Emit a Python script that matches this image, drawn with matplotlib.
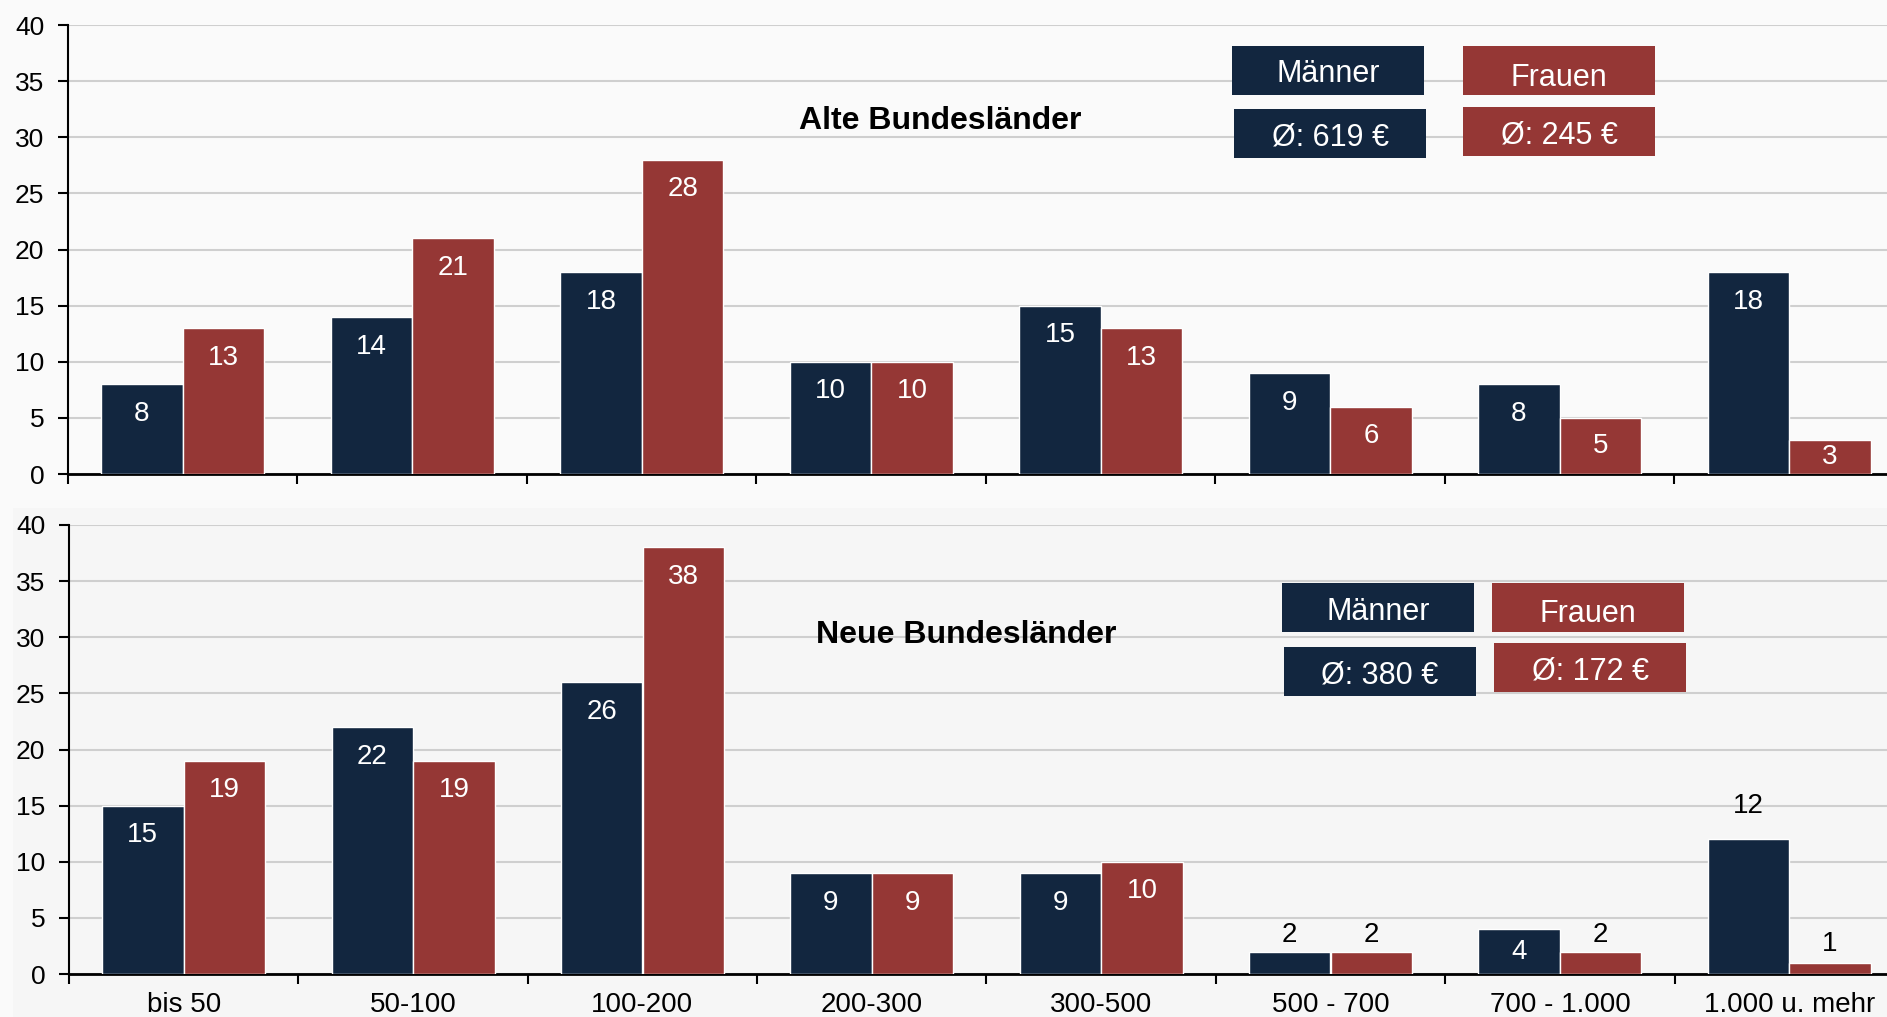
import numpy as np
import matplotlib.pyplot as plt
from matplotlib.patches import Rectangle

plt.rcParams['font.family'] = ['Liberation Sans', 'DejaVu Sans']

categories = ['bis 50', '50-100', '100-200', '200-300', '300-500',
              '500 - 700', '700 - 1.000', '1.000 u. mehr']

alt_maenner = [8, 14, 18, 10, 15, 9, 8, 18]
alt_frauen = [13, 21, 28, 10, 13, 6, 5, 3]
neu_maenner = [15, 22, 26, 9, 9, 2, 4, 12]
neu_frauen = [19, 19, 38, 9, 10, 2, 2, 1]

titles = ['Alte Bundesländer', 'Neue Bundesländer']
avg_maenner = ['Ø: 619 €', 'Ø: 380 €']
avg_frauen = ['Ø: 245 €', 'Ø: 172 €']

NAVY = '#12263f'
RED = '#953735'
W, H = 1887, 1017

fig = plt.figure(figsize=(W / 100, H / 100), dpi=100, facecolor='#fafafa')
# slightly darker backdrop of the lower chart
fig.add_artist(Rectangle((13 / W, 0), 1, 1 - 508 / H, transform=fig.transFigure,
                         facecolor='#f6f6f6', edgecolor='none', zorder=0))

ax_top = fig.add_axes([68 / W, 1 - 474 / H, 1 - 68 / W, 449 / H])
ax_bot = fig.add_axes([69 / W, 1 - 974 / H, 1 - 69 / W, 449 / H])

x = np.arange(len(categories))
bw = 0.355

# labels drawn above the bar instead of inside: (panel, category, series) -> offset
outside = {(1, 5, 0): 1.5, (1, 5, 1): 1.5, (1, 6, 1): 1.5, (1, 7, 1): 1.7, (1, 7, 0): 3.0}

panels = [(ax_top, alt_maenner, alt_frauen), (ax_bot, neu_maenner, neu_frauen)]
for p, (ax, m, f) in enumerate(panels):
    ax.set_facecolor('none')
    for s, (vals, col, dx) in enumerate([(m, NAVY, -0.178), (f, RED, 0.178)]):
        ax.bar(x + dx, vals, width=bw, color=col, edgecolor='white', linewidth=1, zorder=3)
        for i, v in enumerate(vals):
            if (p, i, s) in outside:
                ax.text(x[i] + dx, v + outside[(p, i, s)], str(v), ha='center', va='center',
                        fontsize=20, color='black', zorder=4)
            else:
                ax.text(x[i] + dx, max(v - 2.65, v / 2), str(v), ha='center', va='center',
                        fontsize=20, color='white', zorder=4)

    ax.set_yticks(range(0, 41, 5))
    ax.yaxis.grid(True, color='#cfcfcf', linewidth=1.5, zorder=0)
    ax.set_axisbelow(True)
    ax.set_xticks(np.arange(-0.5, 7, 1))
    ax.set_xticklabels([])
    ax.set_xticks(x, minor=True)
    ax.set_xlim(-0.5, 7.426)
    ax.set_ylim(0, 40)
    ax.tick_params(axis='x', which='minor', length=0, pad=13, labelsize=20)
    ax.tick_params(axis='x', which='major', length=7, width=1.5, direction='out')
    ax.tick_params(axis='y', length=7, width=1.5, pad=10, labelsize=19)
    for side in ['top', 'right']:
        ax.spines[side].set_visible(False)
    ax.spines['left'].set_linewidth(1.5)
    ax.spines['bottom'].set_linewidth(2)

ax_bot.set_xticklabels(categories, minor=True)

fig.text(940 / W, 1 - 121 / H, titles[0], ha='center', va='center',
         fontsize=23, fontweight='bold')
fig.text(966 / W, 1 - 635 / H, titles[1], ha='center', va='center',
         fontsize=23, fontweight='bold')


def box(x0, y0, x1, y1, color, label, dy=4):
    fig.add_artist(Rectangle((x0 / W, 1 - y1 / H), (x1 - x0) / W, (y1 - y0) / H,
                             transform=fig.transFigure, facecolor=color,
                             edgecolor='none', zorder=5))
    fig.text((x0 + x1) / 2 / W, 1 - ((y0 + y1) / 2 + dy) / H, label, ha='center',
             va='center', color='white', fontsize=22, zorder=6)


box(1232, 46, 1424, 95, NAVY, 'Männer')
box(1463, 46, 1655, 95, RED, 'Frauen', dy=7)
box(1234, 109, 1426, 158, NAVY, avg_maenner[0])
box(1463, 107, 1655, 156, RED, avg_frauen[0])

box(1282, 583, 1474, 632, NAVY, 'Männer')
box(1492, 583, 1684, 632, RED, 'Frauen', dy=7)
box(1284, 647, 1476, 696, NAVY, avg_maenner[1])
box(1494, 643, 1686, 692, RED, avg_frauen[1])

fig.savefig('out.png', dpi=100, facecolor=fig.get_facecolor())
